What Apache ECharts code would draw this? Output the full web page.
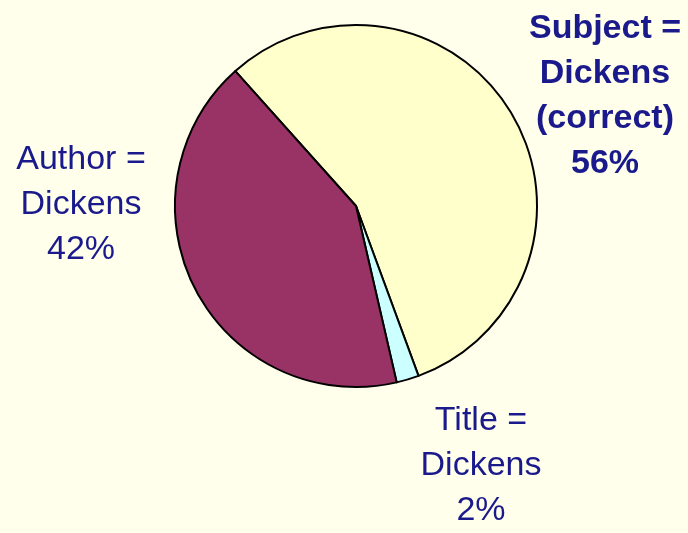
<!DOCTYPE html>
<html>
<head>
<meta charset="utf-8">
<script src="https://cdn.jsdelivr.net/npm/echarts@6/dist/echarts.min.js"></script>
<style>
html,body{margin:0;padding:0;background:#FFFFEC;}
#chart{width:688px;height:533px;}
</style>
</head>
<body>
<div id="chart"></div>
<script>
var categories = ['Subject =\nDickens\n(correct)', 'Title =\nDickens', 'Author =\nDickens'];
var values = [56, 2, 42];

var colors = ['#FFFFCC', '#CCFFFF', '#993366'];
var labelPos = [[605, 96], [481, 466], [81, 205]];
var bold = [true, false, false];

var chart = echarts.init(document.getElementById('chart'), null, {renderer: 'canvas'});
chart.setOption({
  backgroundColor: '#FFFFEC',
  animation: false,
  series: [{
    type: 'pie',
    center: [356, 206],
    radius: [0, 181],
    startAngle: 131.8,
    clockwise: true,
    avoidLabelOverlap: false,
    data: categories.map(function (c, i) {
      return {
        name: c,
        value: values[i],
        itemStyle: {color: colors[i], borderColor: '#000', borderWidth: 2},
        label: {
          fontWeight: bold[i] ? 'bold' : 'normal'
        }
      };
    }),
    label: {
      show: true,
      position: 'outside',
      formatter: function (p) { return p.name + '\n' + Math.round(p.percent) + '%'; },
      fontFamily: 'Arial, "Liberation Sans", sans-serif',
      fontSize: 34,
      lineHeight: 45,
      color: '#1A1A8C',
      align: 'center',
      verticalAlign: 'middle'
    },
    labelLine: {show: false},
    labelLayout: function (params) {
      var p = labelPos[params.dataIndex];
      return {x: p[0], y: p[1], align: 'center', verticalAlign: 'middle'};
    },
    emphasis: {disabled: true}
  }]
});
</script>
</body>
</html>
